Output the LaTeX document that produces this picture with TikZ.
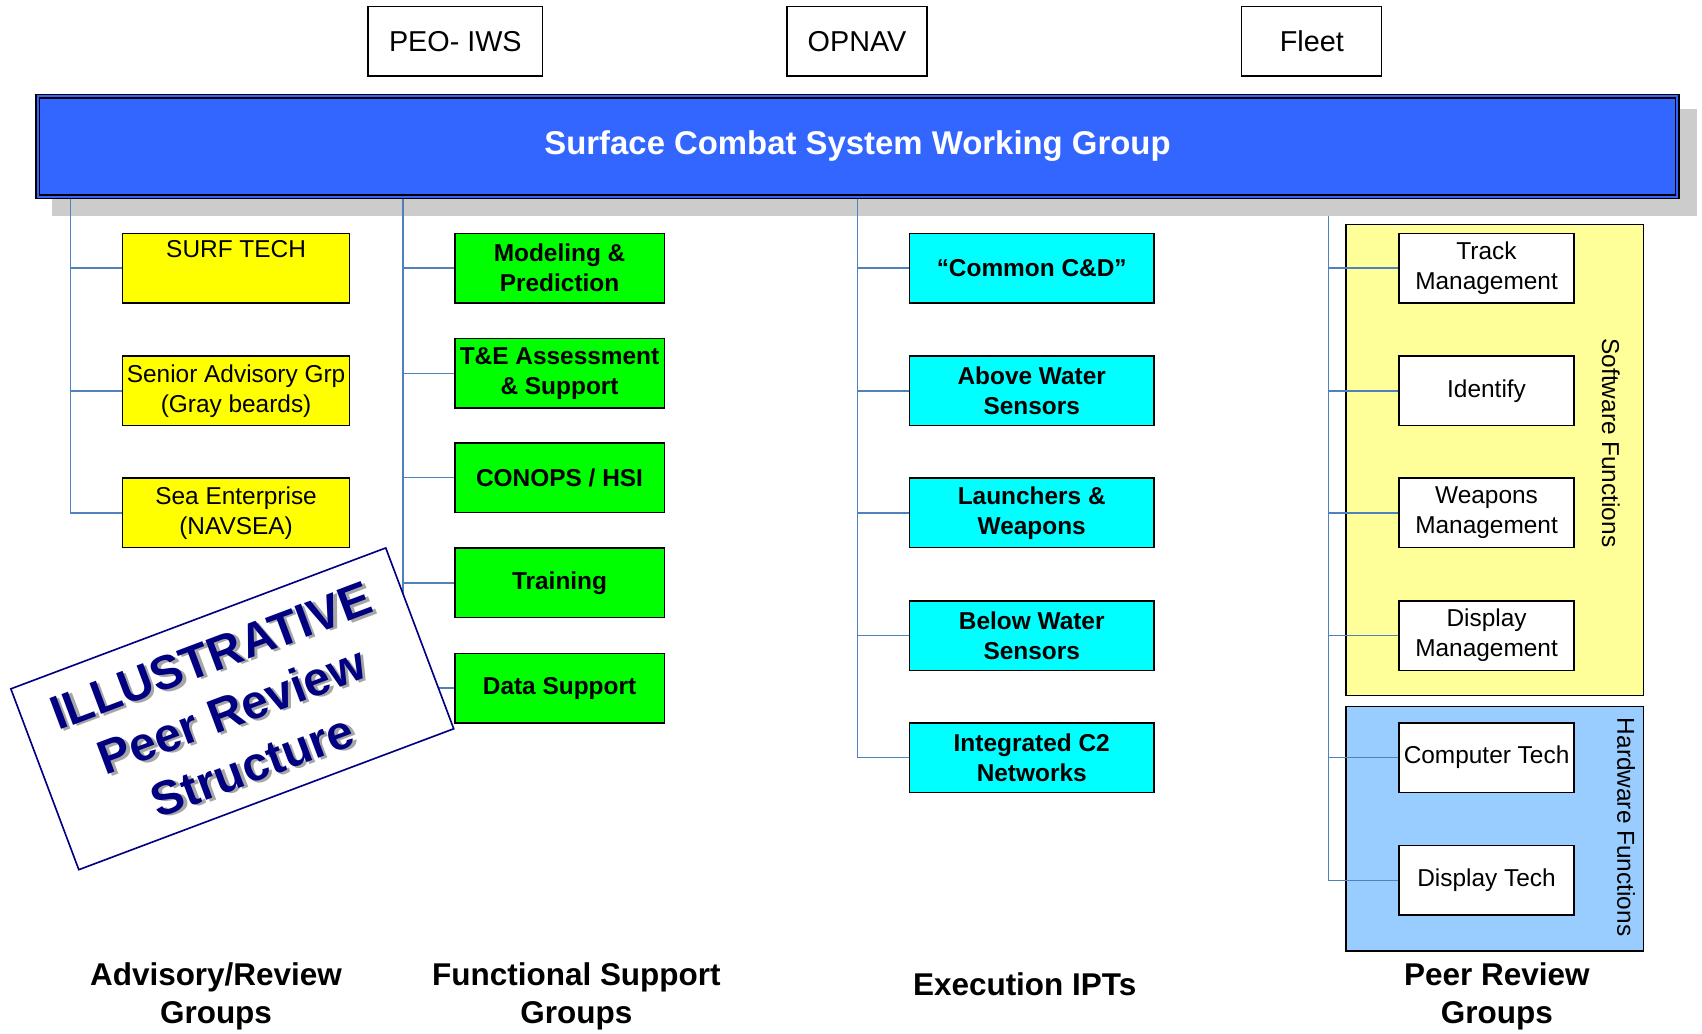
\documentclass[tikz,border=0pt]{standalone}
\usepackage{fontspec}
\setmainfont{Liberation Sans}
\definecolor{azulbarra}{HTML}{3366FF}
\definecolor{amarillo}{HTML}{FFFF00}
\definecolor{verde}{HTML}{00FF00}
\definecolor{cian}{HTML}{00FFFF}
\definecolor{amarilloclaro}{HTML}{FFFF99}
\definecolor{azulclaro}{HTML}{99CCFF}
\definecolor{linea}{HTML}{4F81BD}
\definecolor{marino}{HTML}{000080}
\newcommand{\sombra}[1]{\rlap{\kern2.5pt\raisebox{-2.5pt}{\color{black!35}#1}}#1}
\begin{document}
\begin{tikzpicture}[x=1pt,y=-1pt,
    caja/.style={draw=black,line width=1.3pt,inner sep=0pt,minimum height=64pt,
      align=center,font=\fontsize{22.5}{27.5}\selectfont},
    asesor/.style={caja,fill=amarillo,minimum width=209pt},
    apoyo/.style={caja,fill=verde,minimum width=193pt,font=\fontsize{22.5}{27.5}\selectfont\bfseries},
    ipt/.style={caja,fill=cian,minimum width=225pt,font=\fontsize{22.5}{27.5}\selectfont\bfseries},
    par/.style={caja,fill=white,minimum width=161pt},
    arriba/.style={draw=black,line width=1.2pt,fill=white,minimum height=64pt,inner sep=0pt,
      font=\fontsize{26.5}{30}\selectfont},
    marco/.style={draw=black,line width=1.2pt,minimum width=274pt,inner sep=0pt},
    conector/.style={draw=linea,line width=1.5pt},
    pie/.style={align=center,font=\fontsize{29}{35}\selectfont\bfseries},
    lado/.style={rotate=-90,font=\fontsize{22.5}{27}\selectfont}]

    \useasboundingbox (0,0) rectangle (1568,952);

    % Barra principal
    \fill[black!20] (48,100) rectangle (1563,199);
    \node[draw=black,line width=1.5pt,fill=azulbarra,minimum width=1514pt,minimum height=96pt,
      inner sep=0pt,text=white,font=\fontsize{30.3}{34}\selectfont\bfseries]
      (scswg) at (790,135) {Surface Combat System Working Group};
    \draw[line width=1.2pt] ([shift={(4,4)}]scswg.north west) rectangle ([shift={(-4,-4)}]scswg.south east);

    % Cajas superiores
    \node[arriba,minimum width=161pt] (peo) at (419.5,38) {PEO- IWS};
    \node[arriba,minimum width=129pt] (opnav) at (789.5,38) {OPNAV};
    \node[arriba,minimum width=129pt] (fleet) at (1208.5,38) {Fleet};

    % Marcos de funciones
    \node[marco,fill=amarilloclaro,minimum height=434pt] (sw) at (1377,424) {};
    \node[marco,fill=azulclaro,minimum height=225pt] (hw) at (1377,763.5) {};
    \node[lado] (swlab) at (1484,408) {Software Functions};
    \node[lado] (hwlab) at (1498,762) {Hardware Functions};

    % Grupos asesores
    \node[asesor] (surf) at (217.5,247) {SURF TECH\\\strut};
    \node[asesor] (sag) at (217.5,360) {Senior Advisory Grp\\(Gray beards)};
    \node[asesor] (sea) at (217.5,472.5) {Sea Enterprise\\(NAVSEA)};

    % Grupos de apoyo
    \node[apoyo] (mod) at (515.5,247) {Modeling \&\\Prediction};
    \node[apoyo] (tae) at (515.5,344) {T\&E Assessment\\\& Support};
    \node[apoyo] (conops) at (515.5,440) {CONOPS / HSI};
    \node[apoyo] (train) at (515.5,537) {Training};
    \node[apoyo] (data) at (515.5,634) {Data Support};

    % Equipos de ejecucion
    \node[ipt] (ccd) at (950.5,247) {“Common C\&D”};
    \node[ipt] (aws) at (950.5,360) {Above Water\\Sensors};
    \node[ipt] (lw) at (950.5,472.5) {Launchers \&\\Weapons};
    \node[ipt] (bws) at (950.5,585.5) {Below Water\\Sensors};
    \node[ipt] (c2) at (950.5,698) {Integrated C2\\Networks};

    % Grupos de pares
    \node[par] (track) at (1369.5,247) {Track\\Management};
    \node[par] (ident) at (1369.5,360) {Identify};
    \node[par] (weap) at (1369.5,472.5) {Weapons\\Management};
    \node[par] (disp) at (1369.5,585.5) {Display\\Management};
    \node[par] (comp) at (1369.5,698) {Computer Tech};
    \node[par] (dtech) at (1369.5,811) {Display Tech};

    % Conectores
    \coordinate (ta) at (65,183);
    \coordinate (tb) at (371,183);
    \coordinate (tc) at (790,183);
    \coordinate (td) at (1224,199);
    \foreach \n in {surf,sag,sea} \draw[conector] (ta) |- (\n.west);
    \foreach \n in {mod,tae,conops,train,data} \draw[conector] (tb) |- (\n.west);
    \foreach \n in {ccd,aws,lw,bws,c2} \draw[conector] (tc) |- (\n.west);
    \foreach \n in {track,ident,weap,disp,comp,dtech} \draw[conector] (td) |- (\n.west);

    % Sello ilustrativo
    \node[draw=marino,line width=1.5pt,fill=white,rotate=20.6,minimum width=369pt,
      minimum height=178pt] (sello) at (214,653) {};
    \node[rotate=20.6,align=center,text=marino,font=\fontsize{44}{54}\selectfont\bfseries]
      (sellotexto) at (214,656) {\sombra{ILLUSTRATIVE}\\\sombra{Peer Review}\\\sombra{Structure}};

    % Rotulos inferiores
    \node[pie] (pa) at (199,918) {Advisory/Review\\Groups};
    \node[pie] (pb) at (531,918) {Functional Support\\Groups};
    \node[pie] (pc) at (944,907) {Execution IPTs};
    \node[pie] (pd) at (1379,918) {Peer Review\\Groups};

  \end{tikzpicture}
\end{document}
